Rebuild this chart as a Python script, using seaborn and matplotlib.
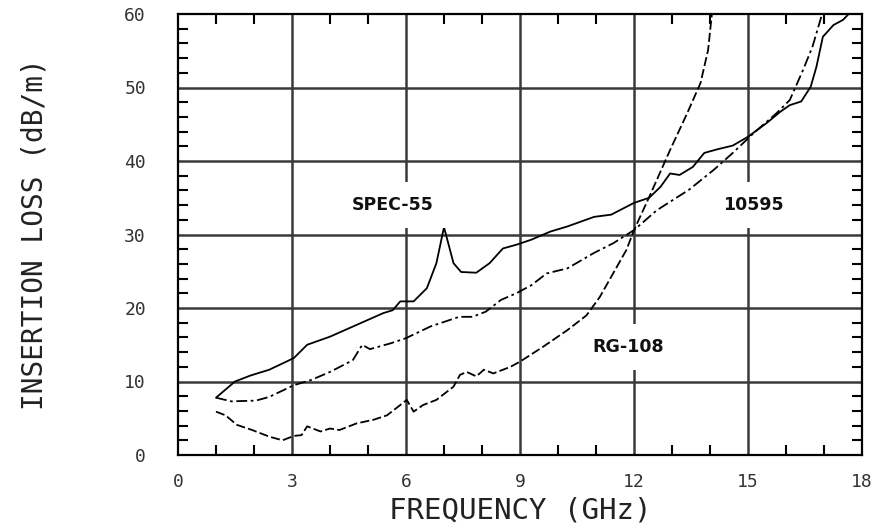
import numpy as np
import pandas as pd
import matplotlib
matplotlib.use("Agg")
import matplotlib.pyplot as plt
import seaborn as sns
from matplotlib.ticker import MultipleLocator

# ---- data ----
spec55_x = [1.0, 1.5, 1.9, 2.4, 2.85, 3.05, 3.4, 4.0, 4.7, 5.4, 5.65, 5.85, 6.2, 6.55, 6.8, 7.0,
            7.25, 7.45, 7.85, 8.2, 8.55, 8.9, 9.3, 9.8, 10.25, 10.95, 11.4, 12.0, 12.4, 12.7,
            12.95, 13.2, 13.55, 13.85, 14.2, 14.6, 15.0, 15.5, 15.85, 16.1, 16.4, 16.65, 16.8,
            16.97, 17.25, 17.5, 17.65]
spec55_y = [7.8, 10.0, 10.8, 11.6, 12.7, 13.2, 15.0, 16.1, 17.7, 19.3, 19.7, 20.9, 20.9, 22.7,
            26.1, 31.0, 26.1, 24.9, 24.8, 26.1, 28.1, 28.6, 29.3, 30.4, 31.1, 32.4, 32.7, 34.3,
            35.0, 36.5, 38.3, 38.1, 39.2, 41.1, 41.6, 42.1, 43.3, 45.2, 46.7, 47.6, 48.1, 50.1,
            52.8, 56.9, 58.5, 59.2, 60.0]

c10595_x = [1.0, 1.4, 2.05, 2.4, 3.05, 3.5, 4.0, 4.6, 4.85, 5.05, 5.6, 6.0, 6.65, 7.4, 7.75,
            8.1, 8.5, 8.9, 9.3, 9.7, 10.25, 10.95, 11.45, 12.0, 12.6, 13.45, 14.1, 14.6, 15.15,
            15.75, 16.1, 16.45, 16.7, 16.95]
c10595_y = [7.8, 7.3, 7.4, 7.9, 9.5, 10.2, 11.3, 12.9, 15.0, 14.4, 15.2, 15.9, 17.5, 18.8, 18.8,
            19.5, 21.1, 22.0, 23.1, 24.7, 25.4, 27.5, 28.8, 30.6, 33.3, 36.1, 38.8, 41.1, 43.8,
            46.5, 48.3, 52.4, 55.6, 60.0]

rg108_x = [1.0, 1.25, 1.55, 1.95, 2.4, 2.75, 3.05, 3.25, 3.4, 3.75, 4.0, 4.25, 4.7, 5.15, 5.5,
           5.85, 6.02, 6.2, 6.45, 6.8, 7.25, 7.42, 7.6, 7.85, 8.05, 8.3, 8.75, 9.0, 9.6, 10.25,
           10.75, 11.1, 11.45, 11.8, 12.0, 12.4, 12.95, 13.4, 13.75, 13.95, 14.05]
rg108_y = [5.9, 5.4, 4.1, 3.4, 2.5, 2.0, 2.6, 2.7, 3.9, 3.2, 3.6, 3.4, 4.3, 4.8, 5.4, 6.8, 7.5,
           5.9, 6.8, 7.5, 9.3, 10.9, 11.3, 10.7, 11.6, 11.1, 12.0, 12.7, 14.7, 17.0, 19.0, 21.5,
           24.7, 27.9, 30.6, 35.1, 41.5, 46.5, 50.6, 55.1, 60.0]

x_ticks = [0, 3, 6, 9, 12, 15, 18]
y_ticks = [0, 10, 20, 30, 40, 50, 60]
x_label = "FREQUENCY (GHz)"
y_label = "INSERTION LOSS (dB/m)"
curve_labels = ["SPEC-55", "10595", "RG-108"]
label_pos = [(5.66, 34.0), (15.13, 34.0), (11.84, 14.7)]

# ---- plotting ----
sns.set_style("white")
plt.rcParams["font.family"] = ["DejaVu Sans Mono", "DejaVu Sans"]

fig = plt.figure(figsize=(8.81, 5.24), dpi=100)
ax = fig.add_axes([178 / 881, 1 - 455 / 524, (862 - 178) / 881, (455 - 14) / 524])

ax.set_xlim(0, 18)
ax.set_ylim(0, 60)

# grid
for xv in x_ticks[1:-1]:
    ax.axvline(xv, color="#3a3a3a", lw=1.8, zorder=1)
for yv in y_ticks[1:-1]:
    ax.axhline(yv, color="#3a3a3a", lw=1.8, zorder=1)

series = [
    (spec55_x, spec55_y, "-"),
    (c10595_x, c10595_y, (0, (6, 2, 1.5, 2))),
    (rg108_x, rg108_y, (0, (5, 1.8))),
]
for xs, ys, ls in series:
    df = pd.DataFrame({"x": xs, "y": ys})
    sns.lineplot(data=df, x="x", y="y", ax=ax, color="black", lw=1.3,
                 linestyle=ls, sort=False, estimator=None, zorder=3)

for txt, (px, py) in zip(curve_labels, label_pos):
    ax.text(px, py, txt, ha="center", va="center", fontsize=12.5, fontweight="bold",
            family="DejaVu Sans", color="#111111", zorder=4,
            bbox=dict(boxstyle="square,pad=0.8", fc="white", ec="none"))

ax.set_xticks(x_ticks)
ax.set_yticks(y_ticks)
ax.set_xticklabels([str(v) for v in x_ticks])
ax.set_yticklabels([str(v) for v in y_ticks])
ax.xaxis.set_minor_locator(MultipleLocator(1))
ax.yaxis.set_minor_locator(MultipleLocator(2))
ax.tick_params(which="both", direction="in", top=True, right=True, bottom=True, left=True,
               color="black")
ax.tick_params(which="major", length=0, labelsize=13, labelcolor="#333333")
ax.tick_params(axis="x", which="major", pad=13)
ax.tick_params(axis="y", which="major", pad=23)
ax.tick_params(which="minor", length=7, width=1.5)

for sp in ax.spines.values():
    sp.set_visible(True)
    sp.set_color("black")
    sp.set_linewidth(1.6)

ax.set_xlabel(x_label, fontsize=21, color="#222222", va="center")
ax.set_ylabel(y_label, fontsize=20, color="#222222", va="center")
ax.xaxis.set_label_coords(0.5, (455 - 510) / 441)
ax.yaxis.set_label_coords((34 - 178) / 684, 0.5)

fig.savefig("out.png", dpi=100)
